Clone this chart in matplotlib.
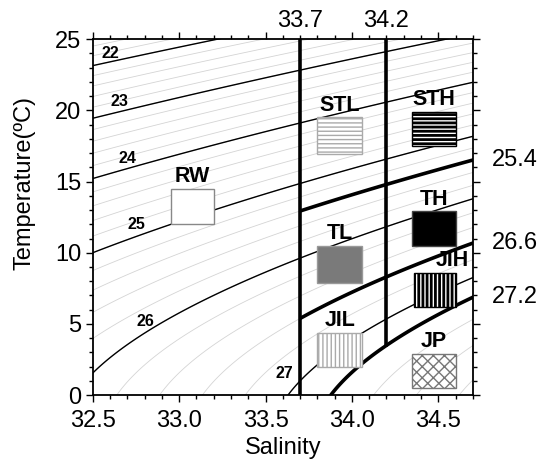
import numpy as np
import matplotlib
matplotlib.use("Agg")
import matplotlib.pyplot as plt
from matplotlib.patches import Rectangle
from matplotlib.ticker import MultipleLocator

plt.rcParams.update({
    "font.family": ["Liberation Sans", "DejaVu Sans"],
    "font.size": 17,
    "axes.linewidth": 1.3,
})

# axis ranges
sal_range = (32.5, 34.7)
temp_range = (0.0, 25.0)

# labelled (black) density contours and where their labels sit
label_levels = [22, 23, 24, 25, 26, 27]
label_sal = [32.55, 32.6, 32.65, 32.7, 32.75, 33.56]
label_temp = [24.0, 20.6, 16.6, 12.0, 5.2, 1.5]

# water-mass boundaries
bound_sal = [33.7, 34.2]
bound_sigma = [25.4, 26.6, 27.2]

# water-mass boxes: name, S0, S1, T0, T1
box_names = ["RW", "STL", "STH", "TH", "TL", "JIH", "JIL", "JP"]
box_s0 = [32.95, 33.80, 34.35, 34.35, 33.80, 34.36, 33.80, 34.35]
box_s1 = [33.20, 34.06, 34.60, 34.60, 34.06, 34.60, 34.06, 34.60]
box_t0 = [12.0, 16.9, 17.5, 10.5, 7.9, 6.2, 2.0, 0.5]
box_t1 = [14.5, 19.5, 19.9, 12.9, 10.5, 8.6, 4.4, 2.9]


def sigma_t(S, T):
    """UNESCO 1980 density at surface pressure, minus 1000."""
    rw = (999.842594 + 6.793952e-2 * T - 9.095290e-3 * T**2 + 1.001685e-4 * T**3
          - 1.120083e-6 * T**4 + 6.536332e-9 * T**5)
    A = 8.24493e-1 - 4.0899e-3 * T + 7.6438e-5 * T**2 - 8.2467e-7 * T**3 + 5.3875e-9 * T**4
    B = -5.72466e-3 + 1.0227e-4 * T - 1.6546e-6 * T**2
    C = 4.8314e-4
    return rw + A * S + B * S**1.5 + C * S**2 - 1000.0


s = np.linspace(32.3, 34.9, 300)
t = np.linspace(-1, 26, 300)
SS, TT = np.meshgrid(s, t)
sig = sigma_t(SS, TT)

fig = plt.figure(figsize=(5.46, 4.66), dpi=100)
ax = fig.add_axes([0.170, 0.152, 0.696, 0.764])

# faint background contours
ax.contour(SS, TT, sig, levels=np.arange(20.0, 28.01, 0.2), colors="#d4d4d4",
           linewidths=0.6, zorder=1)
# labelled contours
ax.contour(SS, TT, sig, levels=label_levels, colors="black", linewidths=1.0, zorder=2)
for lev, xs, ys in zip(label_levels, label_sal, label_temp):
    ax.text(xs, ys, str(lev), fontsize=11.5, fontweight="bold", ha="left", va="center", zorder=6)

# thick boundaries
s_r = np.linspace(bound_sal[0], 34.9, 200)
SR, TR = np.meshgrid(s_r, t)
ax.contour(SR, TR, sigma_t(SR, TR), levels=bound_sigma, colors="black",
           linewidths=2.6, zorder=4)
ax.plot([bound_sal[0]] * 2, temp_range, color="black", lw=2.6, zorder=4)
t_fine = np.linspace(0, 25, 2000)
t_low = np.interp(-bound_sigma[2], -sigma_t(bound_sal[1], t_fine), t_fine)
ax.plot([bound_sal[1]] * 2, [t_low, temp_range[1]], color="black", lw=2.6, zorder=4)

for xs, lab in zip(bound_sal, ["33.7", "34.2"]):
    ax.text(xs, 25.5, lab, ha="center", va="bottom", fontsize=17, clip_on=False)
for lev in bound_sigma:
    ty = np.interp(-lev, -sigma_t(sal_range[1], t_fine), t_fine)
    ax.text(34.81, ty, f"{lev}", ha="left", va="center", fontsize=17, clip_on=False)

# boxes
styles = {
    "RW":  dict(facecolor="white", edgecolor="#888888", hatch=None, hlw=1.0),
    "STL": dict(facecolor="white", edgecolor="#aaaaaa", hatch="----", hlw=1.0),
    "STH": dict(facecolor="white", edgecolor="black", hatch="----", hlw=2.0),
    "TH":  dict(facecolor="black", edgecolor="#444444", hatch=None, hlw=1.0),
    "TL":  dict(facecolor="#7a7a7a", edgecolor="#999999", hatch=None, hlw=1.0),
    "JIH": dict(facecolor="white", edgecolor="black", hatch="||||", hlw=2.0),
    "JIL": dict(facecolor="white", edgecolor="#aaaaaa", hatch="||||", hlw=1.0),
    "JP":  dict(facecolor="white", edgecolor="#777777", hatch="xxx", hlw=1.0),
}
for name, s0, s1, t0, t1 in zip(box_names, box_s0, box_s1, box_t0, box_t1):
    st = styles[name]
    plt.rcParams["hatch.linewidth"] = st["hlw"]
    r = Rectangle((s0, t0), s1 - s0, t1 - t0, facecolor=st["facecolor"],
                  edgecolor=st["edgecolor"], hatch=st["hatch"], lw=1.0, zorder=5)
    if hasattr(r, "set_hatch_linewidth"):
        r.set_hatch_linewidth(st["hlw"])
    ax.add_patch(r)
    cx = (s0 + s1) / 2
    if name == "JIH":
        cx = s1 - 0.02
    ax.text(cx, t1 + 0.1, name, ha="center", va="bottom", fontsize=15.5,
            fontweight="bold", zorder=6)

ax.set_xlim(*sal_range)
ax.set_ylim(*temp_range)
ax.xaxis.set_minor_locator(MultipleLocator(0.1))
ax.yaxis.set_major_locator(MultipleLocator(5))
ax.yaxis.set_minor_locator(MultipleLocator(1))
ax.set_xticks([32.5, 33.0, 33.5, 34.0, 34.5])
ax.set_xticklabels(["32.5", "33.0", "33.5", "34.0", "34.5"])
ax.tick_params(which="both", direction="out", top=True, right=True, width=1.0)
ax.tick_params(which="major", length=5, labelsize=17)
ax.tick_params(axis="x", which="major", pad=6)
ax.tick_params(which="minor", length=3)
ax.set_xlabel("Salinity", fontsize=17, labelpad=3)
fig.text(25 / 546, 1 - 183 / 466, "Temperature(ºC)", rotation=90, ha="center",
         va="center", fontsize=17)

fig.savefig("out.png", dpi=100)
